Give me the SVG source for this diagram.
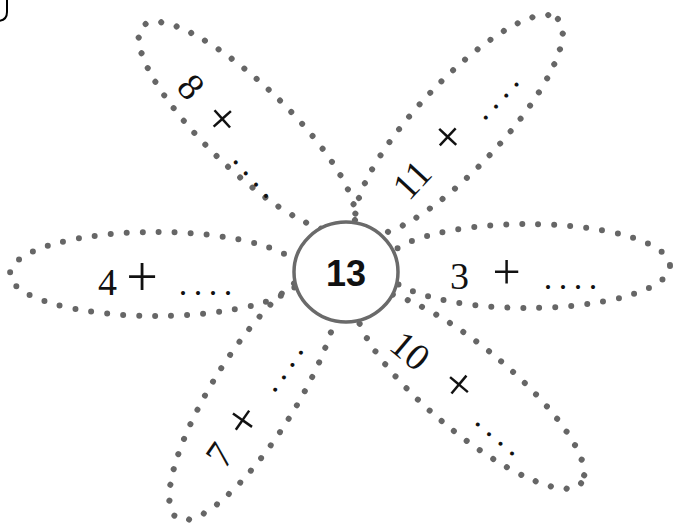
<svg xmlns="http://www.w3.org/2000/svg" width="673" height="527" viewBox="0 0 673 527">
<style>
.petal{fill:none;stroke:#666;stroke-width:6;stroke-dasharray:0 16;stroke-linecap:round}
.t{font-family:"Liberation Serif","Times New Roman",serif;fill:#111}
.d{font-size:38px;text-anchor:middle}
.p{font-size:56px;text-anchor:middle}
.pr{font-size:50px;text-anchor:middle}
.dots{font-size:34px;letter-spacing:6.5px}
.dm{font-size:34px;letter-spacing:6.5px;text-anchor:middle}
</style>
<rect width="673" height="527" fill="#fff"/>
<path d="M7,-4 L7,12 Q7,21 -3,21" fill="none" stroke="#000" stroke-width="2"/>
<g id="petal-left"><ellipse class="petal" cx="156" cy="274" rx="146" ry="42"/>
<text class="t d" x="107.5" y="295">4</text><text class="t p" x="142" y="296">+</text><text class="t dots" x="178.8" y="295">....</text></g>
<g id="petal-right"><ellipse class="petal" cx="527" cy="266" rx="143" ry="42"/>
<text class="t d" x="459.5" y="289">3</text><text class="t pr" x="506.5" y="289">+</text><text class="t dots" x="543.8" y="289">....</text></g>
<g id="petal-upper-left"><ellipse class="petal" cx="247" cy="127" rx="145" ry="42" transform="rotate(44 247 127)"/>
<text class="t d" transform="translate(191,87) rotate(48)" y="12.5">8</text>
<text class="t pr" transform="translate(220,121) rotate(48)" y="13.5">+</text>
<text class="t dm" transform="translate(251,179) rotate(48)" x="3.2" y="1.7">....</text></g>
<g id="petal-upper-right"><ellipse class="petal" cx="459" cy="125" rx="145" ry="43" transform="rotate(-47 459 125)"/>
<text class="t d" transform="translate(412,180) rotate(-47)" y="12.5">11</text>
<text class="t pr" transform="translate(450,139) rotate(-47)" y="13.5">+</text>
<text class="t dm" transform="translate(501,101) rotate(-47)" x="3.2" y="1.7">....</text></g>
<g id="petal-lower-left"><ellipse class="petal" cx="254" cy="395" rx="145" ry="42" transform="rotate(-58 254 395)"/>
<text class="t d" transform="translate(220,455) rotate(-55)" y="12.5">7</text>
<text class="t pr" transform="translate(245,422) rotate(-55)" y="13.5">+</text>
<text class="t dm" transform="translate(288,371) rotate(-55)" x="3.2" y="1.7">....</text></g>
<g id="petal-lower-right"><ellipse class="petal" cx="470" cy="390" rx="145" ry="42" transform="rotate(40 470 390)"/>
<text class="t d" transform="translate(410,351) rotate(40)" y="12.5">10</text>
<text class="t pr" transform="translate(457,387) rotate(40)" y="13.5">+</text>
<text class="t dm" transform="translate(495,439) rotate(40)" x="3.2" y="1.7">....</text></g>
<g id="center"><ellipse cx="346" cy="272" rx="52" ry="50" fill="#fff" stroke="#6a6a6a" stroke-width="3.5"/>
<text x="346" y="286" font-family="Liberation Sans, Arial, sans-serif" font-weight="bold" font-size="36" text-anchor="middle" fill="#111">13</text></g>
</svg>
